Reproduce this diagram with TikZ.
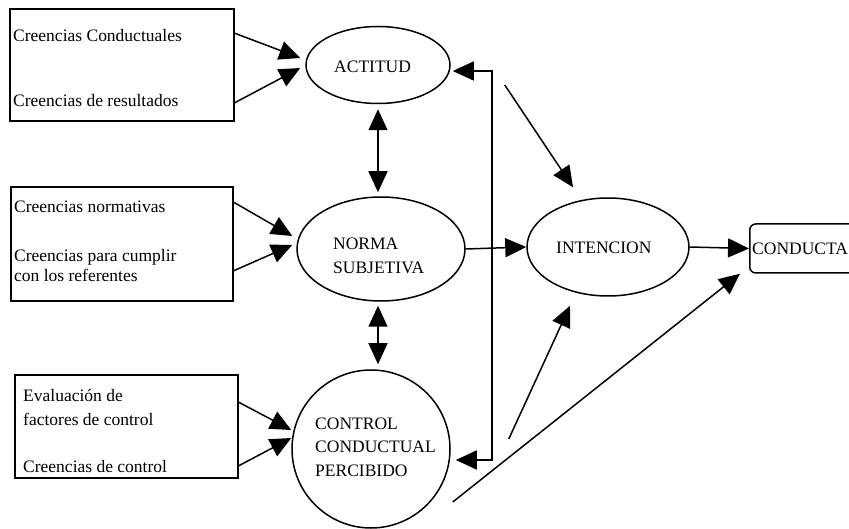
\documentclass[tikz,border=0pt]{standalone}
\usepackage{fontspec}
\setmainfont{Liberation Serif}
\usetikzlibrary{shapes.geometric,arrows.meta,calc}

\tikzset{
  every node/.style={font=\fontsize{17.5}{23.5}\selectfont},
  line/.style={line width=1.5pt},
  arr/.style={line, -{Triangle[length=21pt,width=19pt]}},
  darr/.style={line, {Triangle[length=21pt,width=19pt]}-{Triangle[length=21pt,width=19pt]}},
  beliefbox/.style={draw, line width=1.5pt, rectangle, inner sep=0pt},
  construct/.style={draw, line width=1.5pt, ellipse, inner sep=0pt},
  lbl/.style={anchor=base west, inner sep=0pt, align=left},
}

\begin{document}
\begin{tikzpicture}[x=1pt,y=-1pt]
\useasboundingbox (0,0) rectangle (849,529);

% belief boxes
\node[beliefbox, minimum width=224pt, minimum height=112pt] (b1) at (122,65) {};
\node[beliefbox, minimum width=222pt, minimum height=114pt] (b2) at (122,244) {};
\node[beliefbox, minimum width=223pt, minimum height=103pt] (b3) at (126.5,426.5) {};

% belief texts (base west = baseline of the last line)
\node[lbl] (t11) at (13,42) {Creencias Conductuales};
\node[lbl] (t12) at (13,107) {Creencias de resultados};
\node[lbl] (t21) at (14,213) {Creencias normativas};
\node[lbl, font=\fontsize{17.5}{20.5}\selectfont] (t22) at (14,282) {Creencias para cumplir\\con los referentes};
\node[lbl] (t31) at (23,425) {Evaluación de\\factores de control};
\node[lbl] (t32) at (23,472) {Creencias de control};

% constructs
\node[construct, minimum width=144pt, minimum height=77pt] (act) at (378,65) {};
\node[construct, minimum width=168pt, minimum height=104pt] (norm) at (381,249) {};
\node[construct, minimum width=158pt, minimum height=158pt] (ctrl) at (371,449) {};
\node[construct, minimum width=162pt, minimum height=98pt] (int) at (608,247) {};
\node[draw, line width=1.5pt, rounded corners=6pt, minimum width=140pt, minimum height=49pt,
      inner sep=0pt, anchor=west] (cond) at (749,248.5) {};

\node[lbl] (tact) at (334,73) {ACTITUD};
\node[lbl, font=\fontsize{17.5}{24}\selectfont] (tnorm) at (333,274) {NORMA\\SUBJETIVA};
\node[lbl] (tctrl) at (315,476) {CONTROL\\CONDUCTUAL\\PERCIBIDO};
\node[lbl] (tint) at (556,254) {INTENCION};
\node[lbl] (tcond) at (752,255) {CONDUCTA};

% beliefs -> constructs
\draw[arr] ($(b1.north east)+(0,25)$) -- ($(act.west)+(-5,-7)$);
\draw[arr] ($(b1.south east)+(0,-19)$) -- ($(act.west)+(-5,3)$);
\draw[arr] ($(b2.north east)+(0,16)$) -- ($(norm.west)+(-4,-13)$);
\draw[arr] ($(b2.south east)+(0,-31)$) -- ($(norm.west)+(-4,-4)$);
\draw[arr] ($(b3.north east)+(0,28)$) -- ($(ctrl.west)+(0,-19)$);
\draw[arr] ($(b3.south east)+(0,-13)$) -- ($(ctrl.west)+(0,-11)$);

% mutual links between constructs
\draw[darr] ($(act.south)+(0,5)$) -- ($(norm.north)+(-3,-4)$);
\draw[darr] ($(norm.south)+(-3,4)$) -- ($(ctrl.north)+(7,-5)$);

% feedback line on the right
\coordinate (rtop) at ($(act.east)+(41,6)$);
\coordinate (rbot) at ($(ctrl.east)+(41,11)$);
\draw[arr] (rbot) -- (rtop) -- ($(act.east)+(2,6)$);
\draw[arr] (rtop) -- (rbot) -- ($(ctrl.east)+(5,11)$);

% paths into intention and behaviour
\coordinate (s1) at ($(act.east)+(54,20)$);
\coordinate (s2) at ($(ctrl.east)+(58,-10)$);
\coordinate (s3) at ($(ctrl.east)+(2,53)$);
\draw[arr] (s1) -- ($(int.north)+(-35,-10)$);
\draw[arr] (norm.east) -- (int.west);
\draw[arr] (s2) -- ($(int.south)+(-38,9)$);
\draw[arr] (int.east) -- (cond.west);
\draw[arr] (s3) -- ($(cond.south west)+(-9,0)$);
\end{tikzpicture}
\end{document}
